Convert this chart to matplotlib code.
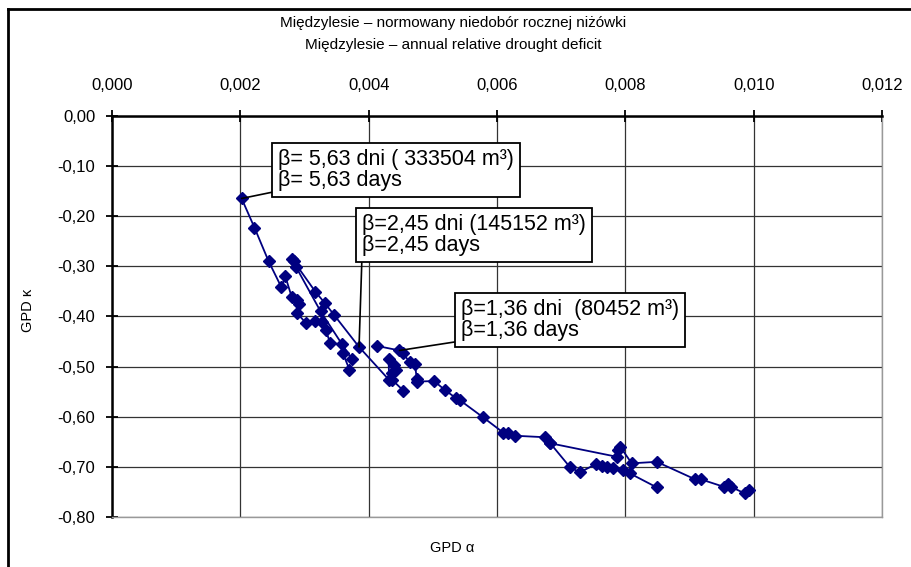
import matplotlib
matplotlib.use("Agg")
import matplotlib.pyplot as plt
from matplotlib.lines import Line2D

plt.rcParams['font.family'] = ['Liberation Sans', 'DejaVu Sans']

# ---- data ----
s1_alpha = [0.00202, 0.00222, 0.00244, 0.00264, 0.00270, 0.00280, 0.00288, 0.00292,
            0.00288, 0.00302, 0.00316, 0.00328, 0.00333, 0.00340, 0.00358, 0.00360, 0.00370]
s1_kappa = [-0.165, -0.223, -0.290, -0.342, -0.320, -0.361, -0.367, -0.375,
            -0.393, -0.413, -0.409, -0.411, -0.427, -0.453, -0.456, -0.474, -0.506]

s2_alpha = [0.00281, 0.00317, 0.00332, 0.00346, 0.00385, 0.00432, 0.00431, 0.00439,
            0.00443, 0.00436, 0.00437, 0.00454]
s2_kappa = [-0.286, -0.351, -0.374, -0.397, -0.461, -0.527, -0.486, -0.497,
            -0.506, -0.512, -0.527, -0.548]

s5_alpha = [0.00283, 0.00287, 0.00325, 0.00374]
s5_kappa = [-0.290, -0.302, -0.390, -0.486]

s3_alpha = [0.00413, 0.00448, 0.00454, 0.00464, 0.00472, 0.00475, 0.00476, 0.00502,
            0.00519, 0.00536, 0.00542, 0.00578, 0.00610, 0.00617, 0.00628, 0.00675,
            0.00683, 0.00714, 0.00729, 0.00755, 0.00763, 0.00771, 0.00781, 0.00797,
            0.00807, 0.00849]
s3_kappa = [-0.459, -0.468, -0.474, -0.492, -0.495, -0.524, -0.530, -0.529,
            -0.547, -0.563, -0.567, -0.601, -0.632, -0.633, -0.638, -0.641,
            -0.653, -0.701, -0.711, -0.694, -0.698, -0.701, -0.703, -0.706,
            -0.713, -0.741]

s4_alpha = [0.00683, 0.00787, 0.00789, 0.00792, 0.00810, 0.00849, 0.00909, 0.00918,
            0.00954, 0.00960, 0.00965, 0.00986, 0.00992]
s4_kappa = [-0.653, -0.680, -0.666, -0.660, -0.693, -0.690, -0.725, -0.725,
            -0.740, -0.734, -0.740, -0.753, -0.746]

x_ticks = [0.000, 0.002, 0.004, 0.006, 0.008, 0.010, 0.012]
x_tick_labels = ["0,000", "0,002", "0,004", "0,006", "0,008", "0,010", "0,012"]
y_ticks = [0.0, -0.1, -0.2, -0.3, -0.4, -0.5, -0.6, -0.7, -0.8]
y_tick_labels = ["0,00", "-0,10", "-0,20", "-0,30", "-0,40", "-0,50", "-0,60", "-0,70", "-0,80"]

title_lines = ["Międzylesie – normowany niedobór rocznej niżówki",
               "Międzylesie – annual relative drought deficit"]
x_label = "GPD α"
y_label = "GPD κ"

labels = [
    ("β= 5,63 dni ( 333504 m³)\nβ= 5,63 days", 0, 0),
    ("β=2,45 dni (145152 m³)\nβ=2,45 days", 1, 4),
    ("β=1,36 dni  (80452 m³)\nβ=1,36 days", 3, 1),
]

# ---- figure ----
W, H = 912, 567
fig = plt.figure(figsize=(W / 100, H / 100), dpi=100)
fig.patch.set_facecolor('white')

left, right, top, bottom = 112, 882, 115.7, 517
ax = fig.add_axes([left / W, 1 - bottom / H, (right - left) / W, (bottom - top) / H])

ax.set_xlim(0, 0.012)
ax.set_ylim(-0.8, 0.0)

navy = '#000080'
series = [(s1_alpha, s1_kappa), (s2_alpha, s2_kappa), (s5_alpha, s5_kappa),
          (s3_alpha, s3_kappa), (s4_alpha, s4_kappa)]
for a, k in series:
    ax.plot(a, k, color=navy, lw=1.3, marker='D', markersize=6,
            markeredgecolor=navy, markerfacecolor=navy, zorder=3)

ax.set_xticks(x_ticks)
ax.set_xticklabels(x_tick_labels)
ax.set_yticks(y_ticks)
ax.set_yticklabels(y_tick_labels)
ax.xaxis.tick_top()
ax.tick_params(axis='x', which='both', direction='inout', length=8, width=1.3,
               pad=12, labelsize=12, colors='black', bottom=False, top=True)
ax.tick_params(axis='y', which='both', direction='inout', length=8, width=1.3,
               pad=8, labelsize=12, colors='black', right=False)

ax.grid(True, color='#333333', lw=0.9, zorder=0)
ax.set_axisbelow(True)

ax.spines['top'].set_linewidth(1.8)
ax.spines['top'].set_color('black')
ax.spines['left'].set_linewidth(1.8)
ax.spines['left'].set_color('black')
ax.spines['right'].set_color('#999999')
ax.spines['right'].set_linewidth(1.0)
ax.spines['bottom'].set_color('#999999')
ax.spines['bottom'].set_linewidth(1.0)

# titles and axis labels
fig.text(453 / W, 1 - 23 / H, title_lines[0], ha='center', va='center', fontsize=11)
fig.text(453 / W, 1 - 45 / H, title_lines[1], ha='center', va='center', fontsize=11)
fig.text(452 / W, 1 - 548 / H, x_label, ha='center', va='center', fontsize=10.5)
fig.text(28 / W, 1 - 310 / H, y_label, ha='center', va='center', fontsize=10.5, rotation=90)

# data labels with leader lines
box_pos = [(272, 197), (356, 262), (455, 347)]  # bottom-left corner in pixels
pad_px = 6
for (txt, si, pi), (bx, by) in zip(labels, box_pos):
    a, k = series[si]
    ax.annotate(txt, xy=(a[pi], k[pi]), xycoords='data',
                xytext=((bx + pad_px) / W, 1 - (by - pad_px) / H), textcoords='figure fraction',
                ha='left', va='bottom', fontsize=15.5, linespacing=1.0,
                bbox=dict(boxstyle='square,pad=0.27', fc='white', ec='black', lw=1.3),
                arrowprops=dict(arrowstyle='-', relpos=(0, 0), shrinkA=0, shrinkB=0,
                                color='black', lw=1.2),
                zorder=5)

# outer chart frame
fig.add_artist(Line2D([8 / W, 8 / W], [0, 1 - 9 / H], color='black', lw=2, transform=fig.transFigure))
fig.add_artist(Line2D([8 / W, 1], [1 - 9 / H, 1 - 9 / H], color='black', lw=2, transform=fig.transFigure))

fig.savefig('out.png', dpi=100)
